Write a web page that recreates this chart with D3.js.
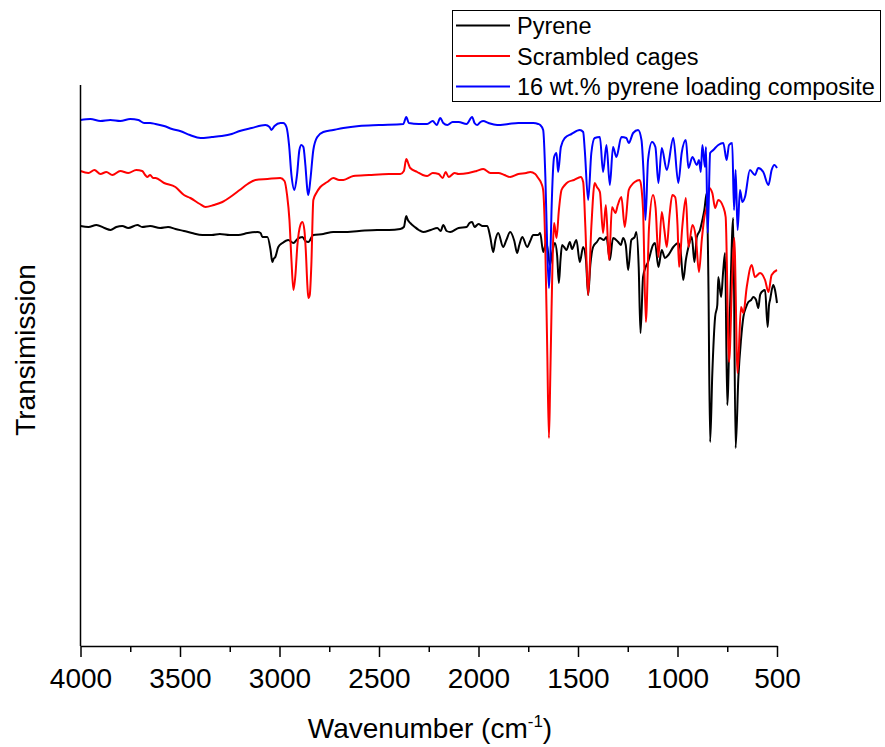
<!DOCTYPE html>
<html>
<head>
<meta charset="utf-8">
<script src="https://cdn.jsdelivr.net/npm/d3@7/dist/d3.min.js"></script>
<style>
  body { margin: 0; background: #fff; }
  svg { display: block; font-family: "Liberation Sans", Arial, sans-serif; }
</style>
</head>
<body>
<svg id="chart" width="885" height="747"></svg>
<script>
// ---- data (wavenumber cm^-1, transmission in arbitrary offset units) ----
const seriesNames = ["Pyrene", "Scrambled cages", "16 wt.% pyrene loading composite"];
const seriesColors = ["#000000", "#ff0000", "#0000ff"];
const majorTicks = [4000, 3500, 3000, 2500, 2000, 1500, 1000, 500];
const minorTicks = [3750, 3250, 2750, 2250, 1750, 1250, 750];

const pyrene = [[4000,419],[3960,418],[3920,420],[3880,417],[3849,415],[3820,418],[3790,419],[3760,417],[3714,420],[3690,418],[3650,419],[3600,417],[3560,418],[3523,416],[3480,414],[3440,412],[3387,410],[3340,410],[3300,411],[3250,410],[3207,410],[3160,412],[3111,413],[3095,412],[3086,408],[3061,408],[3045,395],[3036,383],[3030,386],[3021,388],[3006,398],[2985,402],[2956,405],[2930,402],[2910,406],[2885,408],[2870,404],[2855,403],[2830,410],[2780,411],[2730,413],[2679,413],[2600,414],[2509,415],[2450,415],[2393,416],[2375,418],[2363,429],[2355,425],[2343,422],[2320,418],[2300,415],[2278,413],[2240,415],[2207,417],[2190,414],[2177,420],[2160,414],[2142,413],[2100,417],[2060,418],[2045,422],[2032,423],[2020,418],[2000,421],[1980,419],[1956,419],[1941,408],[1926,393],[1915,405],[1901,412],[1876,398],[1860,405],[1841,413],[1820,404],[1806,392],[1795,400],[1780,408],[1755,398],[1740,404],[1725,410],[1700,410],[1690,412],[1675,393],[1659,403],[1641,380],[1630,392],[1616,402],[1605,390],[1596,362],[1588,385],[1580,400],[1570,398],[1558,395],[1541,403],[1530,396],[1524,398],[1508,405],[1491,383],[1474,398],[1460,385],[1449,350],[1438,380],[1424,398],[1405,403],[1390,407],[1370,405],[1357,408],[1340,385],[1324,407],[1298,403],[1285,400],[1273,407],[1260,400],[1248,375],[1232,405],[1215,408],[1207,413],[1195,378],[1186,312],[1173,368],[1160,378],[1148,383],[1123,400],[1113,402],[1096,378],[1079,395],[1063,387],[1046,390],[1021,398],[996,402],[985,395],[971,365],[958,385],[945,398],[928,408],[915,383],[903,408],[887,415],[875,425],[865,435],[853,452],[845,368],[836,203],[825,272],[811,328],[800,340],[795,368],[781,348],[770,375],[761,392],[750,240],[736,338],[720,427],[708,197],[694,268],[681,305],[669,328],[655,338],[644,343],[630,345],[619,348],[605,345],[594,337],[585,350],[577,353],[560,355],[547,318],[540,340],[535,345],[519,360],[510,355],[500,342]];

const cages = [[4000,474],[3960,472],[3930,475],[3900,471],[3870,473],[3840,470],[3800,474],[3760,472],[3720,475],[3690,474],[3675,470],[3665,468],[3650,470],[3635,467],[3623,467],[3580,462],[3523,458],[3480,450],[3448,447],[3400,441],[3372,438],[3330,440],[3287,443],[3240,449],[3200,455],[3160,461],[3121,465],[3060,466],[2996,467],[2975,464],[2962,450],[2950,425],[2940,385],[2930,355],[2920,370],[2910,400],[2895,420],[2885,423],[2875,415],[2868,395],[2860,360],[2855,347],[2848,350],[2840,380],[2830,445],[2815,452],[2795,458],[2760,463],[2730,467],[2700,465],[2679,465],[2629,469],[2550,470],[2450,471],[2393,471],[2375,474],[2363,486],[2350,480],[2343,477],[2308,473],[2280,470],[2258,469],[2230,472],[2200,471],[2180,467],[2165,473],[2150,468],[2120,472],[2100,471],[2050,472],[2010,474],[1976,476],[1940,472],[1900,472],[1870,470],[1841,468],[1800,471],[1760,472],[1740,473],[1715,471],[1700,467],[1685,462],[1675,455],[1664,395],[1655,300],[1646,207],[1640,260],[1633,335],[1620,422],[1608,407],[1596,435],[1583,455],[1566,460],[1550,463],[1520,465],[1486,468],[1474,463],[1463,418],[1449,350],[1433,418],[1416,462],[1405,458],[1390,453],[1374,412],[1360,440],[1344,385],[1329,438],[1312,432],[1300,440],[1282,448],[1265,418],[1245,455],[1230,460],[1215,463],[1190,465],[1180,455],[1173,435],[1159,323],[1143,418],[1123,450],[1110,437],[1096,388],[1079,433],[1066,415],[1054,398],[1040,430],[1026,450],[1012,448],[1000,420],[992,378],[976,418],[958,447],[945,398],[925,420],[908,408],[892,373],[878,405],[865,428],[848,443],[841,457],[825,452],[811,437],[795,445],[770,438],[758,428],[741,283],[725,368],[715,407],[698,272],[681,338],[669,332],[652,358],[627,380],[611,368],[585,372],[560,365],[543,353],[527,370],[500,375]];

const composite = [[4000,525],[3950,526],[3900,524],[3850,525],[3800,524],[3750,526],[3709,525],[3680,522],[3650,522],[3623,521],[3580,519],[3540,516],[3500,514],[3450,510],[3397,507],[3340,508],[3290,509],[3240,511],[3200,514],[3140,517],[3071,520],[3050,518],[3041,515],[3025,519],[2995,522],[2981,522],[2965,518],[2952,500],[2940,470],[2925,455],[2912,470],[2900,495],[2890,500],[2880,498],[2870,480],[2860,455],[2855,450],[2845,465],[2830,495],[2810,508],[2780,513],[2730,515],[2679,517],[2600,519],[2500,520],[2378,521],[2363,528],[2350,522],[2300,521],[2258,521],[2230,524],[2210,520],[2192,527],[2177,522],[2157,520],[2130,523],[2100,523],[2060,521],[2032,528],[2020,522],[2007,520],[1990,523],[1976,524],[1950,522],[1906,520],[1850,521],[1800,522],[1760,522],[1725,522],[1700,521],[1690,520],[1675,515],[1664,468],[1655,400],[1646,357],[1640,380],[1633,435],[1620,488],[1608,492],[1600,473],[1586,498],[1566,507],[1533,511],[1491,515],[1474,513],[1466,495],[1449,445],[1433,492],[1416,507],[1390,508],[1374,473],[1357,500],[1340,460],[1324,498],[1307,488],[1282,508],[1257,507],[1245,502],[1223,512],[1198,515],[1181,505],[1170,470],[1161,425],[1148,485],[1128,503],[1111,498],[1096,462],[1079,497],[1054,475],[1021,507],[996,462],[979,492],[958,505],[945,477],[925,488],[903,480],[892,485],[883,473],[875,500],[862,478],[857,498],[848,412],[836,492],[820,495],[795,500],[770,502],[753,485],[741,500],[725,502],[716,435],[708,475],[698,415],[686,455],[674,443],[661,448],[636,475],[611,470],[594,477],[569,473],[543,460],[527,475],[513,480],[500,477]];

const allSeries = [pyrene, cages, composite];

// ---- drawing ----
const svg = d3.select("#chart");
const x = d3.scaleLinear().domain([4000, 500]).range([80.5, 777]);
const y = d3.scaleLinear().domain([0, 560]).range([645, 85]);
const axisY = 646;

const line = d3.line()
  .x(d => x(d[0]))
  .y(d => y(d[1]))
  .curve(d3.curveMonotoneX);

allSeries.forEach((s, i) => {
  svg.append("path")
    .datum(s)
    .attr("fill", "none")
    .attr("stroke", seriesColors[i])
    .attr("stroke-width", 2)
    .attr("stroke-linejoin", "round")
    .attr("d", line);
});

// y axis line (no ticks)
svg.append("line")
  .attr("x1", 80.5).attr("x2", 80.5)
  .attr("y1", 85).attr("y2", axisY)
  .attr("stroke", "#000").attr("stroke-width", 1.5);

// x axis
const gx = svg.append("g")
  .attr("transform", `translate(0,${axisY})`)
  .call(d3.axisBottom(x).tickValues(majorTicks).tickSize(11).tickSizeOuter(0).tickPadding(11).tickFormat(d3.format("d")));
gx.select(".domain").attr("stroke-width", 1.5);
gx.selectAll(".tick line").attr("stroke-width", 1.5);
gx.selectAll(".tick text")
  .attr("font-size", 28)
  .attr("font-family", "'Liberation Sans', Arial, sans-serif")
  .attr("fill", "#000");

const gxm = svg.append("g")
  .attr("transform", `translate(0,${axisY})`)
  .call(d3.axisBottom(x).tickValues(minorTicks).tickSize(6).tickSizeOuter(0).tickFormat(""));
gxm.select(".domain").remove();
gxm.selectAll(".tick line").attr("stroke-width", 1.5);

// axis titles
const xt = svg.append("text")
  .attr("x", 430).attr("y", 738)
  .attr("text-anchor", "middle")
  .attr("font-size", 28)
  .attr("fill", "#000");
xt.append("tspan").text("Wavenumber (cm");
xt.append("tspan").attr("font-size", 17).attr("dy", -11).text("-1");
xt.append("tspan").attr("dy", 11).text(")");

svg.append("text")
  .attr("transform", "translate(35,350) rotate(-90)")
  .attr("text-anchor", "middle")
  .attr("font-size", 28)
  .attr("fill", "#000")
  .text("Transimission");

// legend
const lg = svg.append("g");
lg.append("rect")
  .attr("x", 452.5).attr("y", 10.5)
  .attr("width", 428).attr("height", 91)
  .attr("fill", "#fff").attr("stroke", "#000").attr("stroke-width", 1);
seriesNames.forEach((name, i) => {
  const ly = 25.5 + i * 30.5;
  lg.append("line")
    .attr("x1", 456).attr("x2", 510)
    .attr("y1", ly).attr("y2", ly)
    .attr("stroke", seriesColors[i]).attr("stroke-width", 2);
  lg.append("text")
    .attr("x", 517).attr("y", ly + 8.5)
    .attr("font-size", 23.5)
    .attr("fill", "#000")
    .text(name);
});
</script>
</body>
</html>
